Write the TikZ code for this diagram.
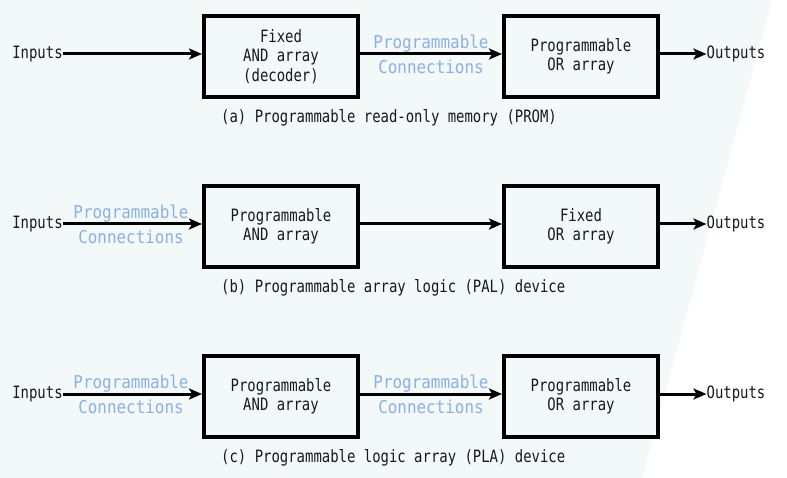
\documentclass[tikz,border=0pt]{standalone}
\usepackage{fontspec}
\setmonofont[FakeStretch=0.82]{DejaVu Sans Mono}
\newfontfamily\labmono[FakeStretch=0.9]{DejaVu Sans Mono}
\usetikzlibrary{arrows.meta}
\definecolor{bgcol}{RGB}{243,248,248}
\definecolor{labcol}{RGB}{140,176,230}
\definecolor{txtcol}{RGB}{25,25,25}
\tikzset{
  blockbox/.style={draw=black, line width=4pt, minimum width=154pt, minimum height=81pt,
    align=center, inner sep=0pt, text=txtcol, font=\ttfamily\fontsize{17}{19.5}\selectfont},
  plain/.style={inner sep=0pt, text=txtcol, font=\ttfamily\fontsize{17}{19.5}\selectfont},
  conlabel/.style={inner sep=0pt, align=center, text=labcol, font=\labmono\fontsize{17.7}{25}\selectfont},
  caption/.style={inner sep=0pt, anchor=west, text=txtcol, font=\ttfamily\fontsize{17}{19.5}\selectfont},
  conn/.style={line width=3pt, -{Stealth[length=13pt,width=11pt,inset=3pt]}}
}
\begin{document}
\begin{tikzpicture}[x=1pt,y=-1pt]
\useasboundingbox (0,0) rectangle (787,478);
\fill[white] (0,0) rectangle (787,478);
\fill[bgcol] (0,0) -- (772,0) -- (642,478) -- (0,478) -- cycle;

% (a) PROM
\node[plain] (ina) at (37.5,54) {Inputs};
\node[blockbox] (anda) at (281,56.5) {Fixed\\AND array\\(decoder)};
\node[blockbox] (ora) at (581,56.5) {Programmable\\OR array};
\node[plain] (outa) at (736,54) {Outputs};
\node[conlabel] (cona) at (431,54) {Programmable\\Connections};
\node[caption] (capa) at (221,118) {(a) Programmable read-only memory (PROM)};
\draw[conn] (ina.east) -- (anda.west |- ina.east);
\draw[conn] (anda.east |- ina.east) -- (ora.west |- ina.east);
\draw[conn] (ora.east |- outa.west) -- (outa.west);

% (b) PAL
\node[plain] (inb) at (37.5,224) {Inputs};
\node[blockbox] (andb) at (281,226.5) {Programmable\\AND array};
\node[blockbox] (orb) at (581,226.5) {Fixed\\OR array};
\node[plain] (outb) at (736,224) {Outputs};
\node[conlabel] (conb) at (131,224) {Programmable\\Connections};
\node[caption] (capb) at (221,288) {(b) Programmable array logic (PAL) device};
\draw[conn] (inb.east) -- (andb.west |- inb.east);
\draw[conn] (andb.east |- inb.east) -- (orb.west |- inb.east);
\draw[conn] (orb.east |- outb.west) -- (outb.west);

% (c) PLA
\node[plain] (inc) at (37.5,394) {Inputs};
\node[blockbox] (andc) at (281,396.5) {Programmable\\AND array};
\node[blockbox] (orc) at (581,396.5) {Programmable\\OR array};
\node[plain] (outc) at (736,394) {Outputs};
\node[conlabel] (conc1) at (131,394) {Programmable\\Connections};
\node[conlabel] (conc2) at (431,394) {Programmable\\Connections};
\node[caption] (capc) at (221,458) {(c) Programmable logic array (PLA) device};
\draw[conn] (inc.east) -- (andc.west |- inc.east);
\draw[conn] (andc.east |- inc.east) -- (orc.west |- inc.east);
\draw[conn] (orc.east |- outc.west) -- (outc.west);
\end{tikzpicture}
\end{document}
